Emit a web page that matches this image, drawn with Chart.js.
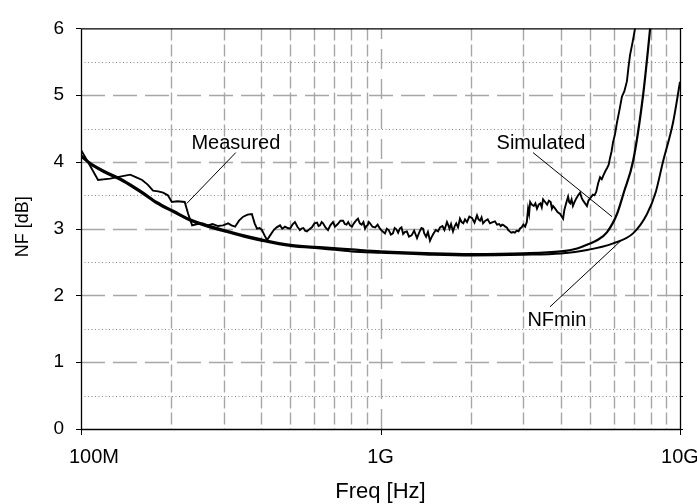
<!DOCTYPE html>
<html><head><meta charset="utf-8">
<script src="https://cdn.jsdelivr.net/npm/chart.js@4.4.0/dist/chart.umd.min.js"></script>
<style>html,body{margin:0;padding:0;background:#fff;}canvas{display:block;}</style>
</head><body>
<canvas id="c" width="697" height="504"></canvas>
<script>
// ---- data: [frequency in GHz, noise figure in dB] ----
const measuredData = [[0.100,4.18],[0.107,3.95],[0.114,3.73],[0.125,3.75],[0.135,3.78],[0.146,3.81],[0.153,3.77],[0.160,3.73],[0.167,3.66],[0.174,3.57],[0.181,3.56],[0.188,3.54],[0.195,3.50],[0.201,3.40],[0.210,3.41],[0.222,3.40],[0.228,3.22],[0.235,3.05],[0.245,3.07],[0.255,3.08],[0.265,3.05],[0.275,3.07],[0.287,3.04],[0.298,3.05],[0.310,3.08],[0.318,3.05],[0.327,3.03],[0.337,3.12],[0.348,3.18],[0.360,3.21],[0.372,3.22],[0.380,3.08],[0.387,3.00],[0.395,3.01],[0.402,2.98],[0.410,2.90],[0.418,2.83],[0.428,2.90],[0.440,2.98],[0.450,3.02],[0.462,3.05],[0.470,3.00],[0.480,3.03],[0.490,3.01],[0.499,3.00],[0.508,3.06],[0.518,3.10],[0.528,3.03],[0.538,2.98],[0.545,3.00],[0.553,3.01],[0.560,2.97],[0.568,2.96],[0.578,2.99],[0.590,3.02],[0.602,3.08],[0.614,3.09],[0.621,3.04],[0.628,3.05],[0.636,3.10],[0.643,3.08],[0.655,3.02],[0.668,2.98],[0.680,3.05],[0.694,3.10],[0.705,3.03],[0.720,3.07],[0.735,3.12],[0.750,3.12],[0.760,3.07],[0.770,3.06],[0.780,3.10],[0.791,3.05],[0.803,3.03],[0.815,3.08],[0.828,3.12],[0.841,3.15],[0.853,3.08],[0.865,3.06],[0.877,3.10],[0.888,3.00],[0.897,3.04],[0.905,3.05],[0.914,3.10],[0.923,3.08],[0.940,3.03],[0.960,3.02],[0.978,3.06],[0.996,3.00],[1.015,2.96],[1.035,2.93],[1.050,3.00],[1.065,2.98],[1.083,2.91],[1.100,2.93],[1.115,3.01],[1.130,2.99],[1.145,2.94],[1.160,3.00],[1.175,3.02],[1.190,2.92],[1.205,2.95],[1.225,2.96],[1.245,2.88],[1.270,2.90],[1.295,2.97],[1.324,2.86],[1.340,2.92],[1.355,2.97],[1.370,3.01],[1.387,3.00],[1.400,2.93],[1.420,2.88],[1.440,2.95],[1.463,2.82],[1.480,2.87],[1.500,2.92],[1.530,2.98],[1.556,2.96],[1.580,3.02],[1.610,3.04],[1.635,2.98],[1.667,3.10],[1.685,3.05],[1.700,3.00],[1.720,3.07],[1.746,2.96],[1.770,3.04],[1.790,3.08],[1.815,3.02],[1.842,3.15],[1.865,3.10],[1.890,3.08],[1.915,3.14],[1.945,3.10],[1.980,3.18],[2.020,3.16],[2.060,3.09],[2.100,3.20],[2.125,3.14],[2.150,3.12],[2.175,3.17],[2.200,3.08],[2.240,3.12],[2.280,3.14],[2.320,3.08],[2.370,3.10],[2.410,3.11],[2.450,3.06],[2.490,3.07],[2.520,3.04],[2.550,3.06],[2.580,3.05],[2.610,3.03],[2.640,3.02],[2.670,2.98],[2.700,2.96],[2.735,2.94],[2.770,2.95],[2.810,2.94],[2.850,2.97],[2.890,2.96],[2.920,3.00],[2.960,3.02],[3.000,3.06],[3.040,3.03],[3.080,3.10],[3.110,3.30],[3.135,3.22],[3.160,3.40],[3.200,3.36],[3.250,3.34],[3.290,3.38],[3.330,3.30],[3.375,3.36],[3.420,3.38],[3.455,3.32],[3.490,3.44],[3.545,3.40],[3.600,3.36],[3.650,3.42],[3.700,3.40],[3.735,3.30],[3.770,3.34],[3.830,3.30],[3.900,3.25],[3.980,3.22],[4.070,3.15],[4.110,3.28],[4.150,3.35],[4.190,3.42],[4.230,3.48],[4.265,3.40],[4.300,3.38],[4.345,3.44],[4.390,3.34],[4.445,3.40],[4.500,3.45],[4.570,3.50],[4.640,3.54],[4.695,3.46],[4.750,3.42],[4.820,3.38],[4.890,3.34],[4.945,3.42],[5.000,3.45],[5.060,3.48],[5.120,3.51],[5.180,3.50],[5.250,3.55],[5.330,3.68],[5.410,3.77],[5.480,3.74],[5.550,3.80],[5.630,3.86],[5.710,3.91],[5.780,3.96],[5.840,4.06],[5.910,4.16],[5.980,4.30],[6.070,4.42],[6.160,4.59],[6.280,4.78],[6.400,4.98],[6.520,5.06],[6.650,5.21],[6.730,5.42],[6.810,5.60],[6.950,5.80],[7.080,6.00],[7.250,6.30]];

const simulatedData = [[0.100,4.10],[0.107,3.99],[0.120,3.86],[0.138,3.73],[0.160,3.55],[0.179,3.40],[0.205,3.26],[0.231,3.14],[0.265,3.05],[0.300,2.98],[0.350,2.90],[0.400,2.84],[0.500,2.76],[0.643,2.72],[0.800,2.69],[1.00,2.66],[1.50,2.63],[2.00,2.62],[3.00,2.63],[4.00,2.66],[4.50,2.70],[4.89,2.76],[5.30,2.83],[5.71,2.95],[6.16,3.22],[6.50,3.55],[6.97,4.01],[7.52,4.98],[7.94,5.98],[8.10,6.40]];

const nfminData = [[0.100,4.08],[0.107,3.97],[0.120,3.84],[0.138,3.71],[0.160,3.53],[0.179,3.38],[0.205,3.24],[0.231,3.12],[0.265,3.03],[0.300,2.96],[0.350,2.88],[0.400,2.82],[0.500,2.74],[0.643,2.70],[0.800,2.66],[1.00,2.64],[1.50,2.61],[2.00,2.60],[3.00,2.61],[4.00,2.63],[4.89,2.68],[5.98,2.78],[6.97,2.93],[7.76,3.22],[8.30,3.55],[8.77,4.00],[9.48,4.59],[10.0,5.20]];

const xTickFreqGHz = [0.1, 1, 10];
const xTickLabels = ['100M', '1G', '10G'];
const xMinorMultipliers = [2,3,4,5,6,7,8,9];
const yMin = 0, yMax = 6, yStep = 1, yMinorStep = 0.5;
const xTitle = 'Freq [Hz]';
const yTitle = 'NF [dB]';

// annotations: label text, label anchor, leader line (tail -> tip) in data units
const annotationTexts = ['Measured', 'Simulated', 'NFmin'];
const annotationTextFreqGHz = [0.329, 3.435, 3.88];
const annotationTextNF = [4.20, 4.19, 1.55];
const annotationTailFreqGHz = [0.3287, 3.23, 3.68];
const annotationTailNF = [4.14, 4.14, 1.83];
const annotationTipFreqGHz = [0.2254, 5.93, 6.35];
const annotationTipNF = [3.377, 3.18, 2.82];

const FONT = '"Liberation Sans", Arial, Helvetica, sans-serif';
const toPts = (arr) => arr.map(([f, v]) => ({ x: f * 1e9, y: v }));

const decorPlugin = {
  id: 'decor',
  beforeDatasetsDraw(chart) {
    const { ctx, chartArea: a, scales: { x, y } } = chart;
    ctx.save();
    ctx.beginPath(); ctx.rect(a.left, a.top, a.right - a.left, a.bottom - a.top); ctx.clip();
    // horizontal minor (dotted)
    ctx.strokeStyle = '#8a8a8a'; ctx.lineWidth = 1; ctx.setLineDash([1, 2.5]);
    for (let v = yMin + yMinorStep; v < yMax; v += yStep) {
      const py = Math.round(y.getPixelForValue(v)) + 0.5;
      ctx.beginPath(); ctx.moveTo(a.left, py); ctx.lineTo(a.right, py); ctx.stroke();
    }
    // horizontal major (dashed)
    ctx.strokeStyle = '#a6a6a6'; ctx.lineWidth = 1.5; ctx.setLineDash([24, 8]);
    for (let v = yMin + yStep; v < yMax; v += yStep) {
      const py = Math.round(y.getPixelForValue(v)) + 0.5;
      ctx.beginPath(); ctx.moveTo(a.left, py); ctx.lineTo(a.right, py); ctx.stroke();
    }
    // vertical minor (dashed)
    ctx.strokeStyle = '#a6a6a6'; ctx.lineWidth = 1.4; ctx.setLineDash([12, 4]);
    for (let d = 0; d < xTickFreqGHz.length - 1; d++) {
      for (const m of xMinorMultipliers) {
        const px = Math.round(x.getPixelForValue(xTickFreqGHz[d] * m * 1e9)) + 0.5;
        ctx.beginPath(); ctx.moveTo(px, a.top); ctx.lineTo(px, a.bottom); ctx.stroke();
      }
    }
    // vertical major inside (1G)
    ctx.setLineDash([20, 10]);
    for (let i = 1; i < xTickFreqGHz.length - 1; i++) {
      const px = Math.round(x.getPixelForValue(xTickFreqGHz[i] * 1e9)) + 0.5;
      ctx.beginPath(); ctx.moveTo(px, a.bottom); ctx.lineTo(px, a.top); ctx.stroke();
    }
    ctx.restore();
  },
  afterDatasetsDraw(chart) {
    const { ctx, chartArea: a, scales: { x, y } } = chart;
    ctx.save();
    ctx.setLineDash([]);
    // frame
    ctx.strokeStyle = '#000'; ctx.lineWidth = 1.3;
    ctx.beginPath();
    ctx.moveTo(a.left + 0.5, a.top + 0.5); ctx.lineTo(a.right + 0.5, a.top + 0.5);
    ctx.lineTo(a.right + 0.5, a.bottom + 0.5); ctx.lineTo(a.left + 0.5, a.bottom + 0.5);
    ctx.closePath(); ctx.stroke();
    // tick marks
    ctx.lineWidth = 1;
    for (let v = yMin; v <= yMax + 1e-9; v += yMinorStep) {
      const py = Math.round(y.getPixelForValue(v)) + 0.5;
      ctx.beginPath();
      if (Math.abs(v - Math.round(v)) < 1e-9) { ctx.moveTo(a.left - 5, py); ctx.lineTo(a.left, py); }
      ctx.moveTo(a.right, py); ctx.lineTo(a.right + 3, py);
      ctx.stroke();
    }
    for (const f of xTickFreqGHz) {
      const px = Math.round(x.getPixelForValue(f * 1e9)) + 0.5;
      ctx.beginPath(); ctx.moveTo(px, a.bottom); ctx.lineTo(px, a.bottom + 6); ctx.stroke();
    }
    // x tick labels
    ctx.fillStyle = '#000';
    ctx.font = '20px ' + FONT; ctx.textAlign = 'center'; ctx.textBaseline = 'alphabetic';
    xTickFreqGHz.forEach((f, i) => {
      const px = x.getPixelForValue(f * 1e9);
      const off = i === 0 ? 13 : 0;
      ctx.fillText(xTickLabels[i], px + off, a.bottom + 34);
    });
    // axis titles
    ctx.font = '22px ' + FONT;
    ctx.fillText(xTitle, (a.left + a.right) / 2, 498);
    ctx.save();
    ctx.font = '18px ' + FONT;
    ctx.translate(28, (a.top + a.bottom) / 2 - 2);
    ctx.rotate(-Math.PI / 2);
    ctx.fillText(yTitle, 0, 0);
    ctx.restore();
    // annotations
    ctx.font = '20px ' + FONT;
    ctx.lineWidth = 1; ctx.strokeStyle = '#000';
    annotationTexts.forEach((t, i) => {
      ctx.fillText(t, x.getPixelForValue(annotationTextFreqGHz[i] * 1e9), y.getPixelForValue(annotationTextNF[i]));
      ctx.beginPath();
      ctx.moveTo(x.getPixelForValue(annotationTailFreqGHz[i] * 1e9), y.getPixelForValue(annotationTailNF[i]));
      ctx.lineTo(x.getPixelForValue(annotationTipFreqGHz[i] * 1e9), y.getPixelForValue(annotationTipNF[i]));
      ctx.stroke();
    });
    ctx.restore();
  }
};

const common = { borderColor: '#000', backgroundColor: '#000', pointRadius: 0, fill: false };
new Chart(document.getElementById('c'), {
  type: 'line',
  data: {
    datasets: [
      { ...common, label: 'NFmin', data: toPts(nfminData), borderWidth: 2, cubicInterpolationMode: 'monotone' },
      { ...common, label: 'Simulated', data: toPts(simulatedData), borderWidth: 2.2, cubicInterpolationMode: 'monotone' },
      { ...common, label: 'Measured', data: toPts(measuredData), borderWidth: 1.9, tension: 0 }
    ]
  },
  options: {
    responsive: false, animation: false, devicePixelRatio: 1,
    layout: { padding: { top: 12, right: 17, left: 0, bottom: 0 } },
    plugins: { legend: { display: false }, tooltip: { enabled: false } },
    scales: {
      x: {
        type: 'logarithmic', min: xTickFreqGHz[0] * 1e9, max: xTickFreqGHz[xTickFreqGHz.length - 1] * 1e9,
        grid: { display: false, drawTicks: false }, border: { display: false },
        ticks: { display: false },
        afterFit(s) { s.height = 75; }
      },
      y: {
        min: yMin, max: yMax,
        grid: { display: false, drawTicks: false }, border: { display: false },
        ticks: { stepSize: yStep, padding: 17, color: '#000', font: { family: FONT, size: 19 } },
        afterFit(s) { s.width = 81; }
      }
    }
  },
  plugins: [decorPlugin]
});
</script>
</body></html>
